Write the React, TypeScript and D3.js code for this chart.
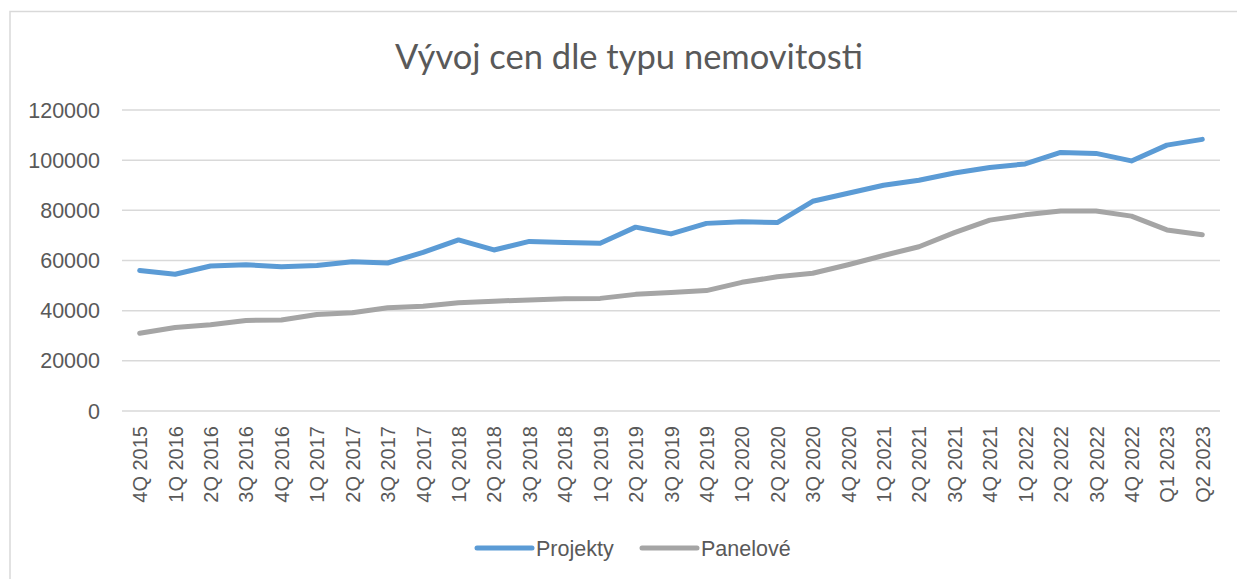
import React from "react";
import * as d3 from "d3";

const categories = [
  "4Q 2015", "1Q 2016", "2Q 2016", "3Q 2016", "4Q 2016", "1Q 2017", "2Q 2017", "3Q 2017", "4Q 2017",
  "1Q 2018", "2Q 2018", "3Q 2018", "4Q 2018", "1Q 2019", "2Q 2019", "3Q 2019", "4Q 2019",
  "1Q 2020", "2Q 2020", "3Q 2020", "4Q 2020", "1Q 2021", "2Q 2021", "3Q 2021", "4Q 2021",
  "1Q 2022", "2Q 2022", "3Q 2022", "4Q 2022", "Q1 2023", "Q2 2023",
];

const projekty = [
  56000, 54500, 57800, 58300, 57500, 58000, 59500, 59000, 63200, 68200, 64200, 67600, 67200, 66900,
  73300, 70600, 74800, 75400, 75100, 83600, 86800, 90000, 92000, 94900, 97100, 98500, 103100, 102700,
  99700, 106000, 108300,
];

const panelove = [
  31000, 33300, 34400, 36100, 36300, 38500, 39200, 41200, 41800, 43200, 43800, 44300, 44800, 44900,
  46500, 47200, 48000, 51300, 53500, 54900, 58300, 62000, 65500, 71100, 76100, 78200, 79700, 79700,
  77700, 72200, 70300,
];

const yTicks = [0, 20000, 40000, 60000, 80000, 100000, 120000];

const seriesList = [
  { name: "Projekty", values: projekty, color: "#5b9bd5" },
  { name: "Panelové", values: panelove, color: "#a5a5a5" },
];

const W = 1237;
const H = 579;
const plotLeft = 122;
const plotRight = 1220;
const plotTop = 110;
const plotBottom = 411;
const textColor = "#595959";
const font = "'Liberation Sans', Arial, sans-serif";

export default function App() {
  const x = d3.scaleBand<string>().domain(categories).range([plotLeft, plotRight]).padding(0);
  const y = d3.scaleLinear().domain([0, 120000]).range([plotBottom, plotTop]);
  const cx = (c: string) => (x(c) as number) + x.bandwidth() / 2;

  const line = d3
    .line<number>()
    .x((_, i) => cx(categories[i]))
    .y((v) => y(v));

  const legendItems = [
    { x: 477, textX: 536 },
    { x: 642, textX: 701 },
  ];

  return (
    <svg
      width={W}
      height={H}
      style={{ position: "absolute", left: 0, top: 0, background: "#fff" }}
      fontFamily={font}
    >
      <rect x={0} y={0} width={W} height={H} fill="#fff" />
      <rect x={10} y={11.5} width={W + 100} height={H + 100} fill="none" stroke="#d9d9d9" strokeWidth={1.5} />
      <text
        x={629}
        y={69}
        textAnchor="middle"
        fontSize={34.5}
        fill={textColor}
        fontFamily="Lato, 'Open Sans', sans-serif"
      >
        Vývoj cen dle typu nemovitosti
      </text>
      {yTicks.map((t) => (
        <g key={t}>
          <line x1={plotLeft} x2={plotRight} y1={y(t)} y2={y(t)} stroke="#d9d9d9" strokeWidth={1.5} />
          <text x={100} y={y(t)} dy="0.35em" textAnchor="end" fontSize={21.5} fill={textColor}>
            {t}
          </text>
        </g>
      ))}
      {categories.map((c) => (
        <text
          key={c}
          transform={`translate(${cx(c) + 7.5},426) rotate(-90)`}
          textAnchor="end"
          fontSize={20}
          fill={textColor}
        >
          {c}
        </text>
      ))}
      {seriesList.map((s) => (
        <path
          key={s.name}
          d={line(s.values) || ""}
          fill="none"
          stroke={s.color}
          strokeWidth={5}
          strokeLinecap="round"
          strokeLinejoin="round"
        />
      ))}
      {seriesList.map((s, i) => (
        <g key={s.name}>
          <line
            x1={legendItems[i].x}
            x2={legendItems[i].x + 55}
            y1={548}
            y2={548}
            stroke={s.color}
            strokeWidth={5}
            strokeLinecap="round"
          />
          <text x={legendItems[i].textX} y={548} dy="0.35em" fontSize={21.5} fill={textColor}>
            {s.name}
          </text>
        </g>
      ))}
    </svg>
  );
}
